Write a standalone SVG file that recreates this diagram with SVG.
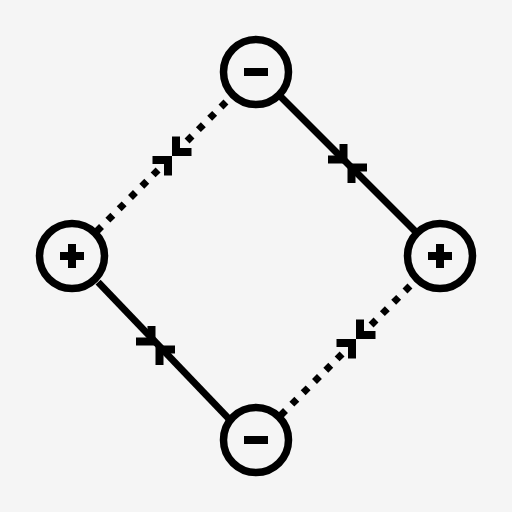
<svg xmlns="http://www.w3.org/2000/svg" xmlns:xlink="http://www.w3.org/1999/xlink" width="512" height="512" viewBox="0 0 512 512">
  <style>
    .ring { fill: #f5f5f5; stroke: #000; stroke-width: 7.5; }
    .sign { fill: #000; }
    .solid { stroke: #000; stroke-width: 7; fill: none; }
    .dots { stroke: #000; stroke-width: 7; fill: none; stroke-dasharray: 7 9; }
    .chev { fill: #000; }
  </style>
  <defs>
    <path id="chev" d="M0 0 H-19.5 V-8 H-8 V-19.5 H0 Z"/>
    <rect id="minus" x="-12" y="-4" width="24" height="8"/>
    <path id="plus" d="M-4 -12 H4 V-4 H12 V4 H4 V12 H-4 V4 H-12 V-4 H-4 Z"/>
  </defs>
  <rect width="512" height="512" fill="#f5f5f5"/>

  <g id="connectors">
    <!-- top to right (solid) -->
    <line class="solid" x1="279.3" y1="95.3" x2="416.7" y2="232.7"/>
    <g class="chev" transform="translate(347.5 163.5)">
      <use xlink:href="#chev"/>
      <use xlink:href="#chev" transform="rotate(180)"/>
    </g>
    <!-- left to bottom (solid) -->
    <line class="solid" x1="98.1" y1="282.1" x2="229.9" y2="419.9"/>
    <g class="chev" transform="translate(155.5 345.5)">
      <use xlink:href="#chev"/>
      <use xlink:href="#chev" transform="rotate(180)"/>
    </g>
    <!-- top to left (dotted) -->
    <line class="dots" x1="225.95" y1="102.05" x2="187.06" y2="140.94"/>
    <line class="dots" x1="158.07" y1="169.93" x2="96.55" y2="231.45"/>
    <g class="chev" transform="translate(172 156)">
      <use xlink:href="#chev" transform="rotate(90)"/>
      <use xlink:href="#chev" transform="rotate(270)"/>
    </g>
    <!-- right to bottom (dotted) -->
    <line class="dots" x1="409.95" y1="286.05" x2="371.06" y2="324.94"/>
    <line class="dots" x1="342.07" y1="353.93" x2="280.55" y2="415.45"/>
    <g class="chev" transform="translate(356 339)">
      <use xlink:href="#chev" transform="rotate(90)"/>
      <use xlink:href="#chev" transform="rotate(270)"/>
    </g>
  </g>

  <g id="node-top" transform="translate(256 72)">
    <circle class="ring" r="32.5"/>
    <use class="sign" xlink:href="#minus"/>
  </g>
  <g id="node-left" transform="translate(72 256)">
    <circle class="ring" r="32.5"/>
    <use class="sign" xlink:href="#plus"/>
  </g>
  <g id="node-right" transform="translate(440 256)">
    <circle class="ring" r="32.5"/>
    <use class="sign" xlink:href="#plus"/>
  </g>
  <g id="node-bottom" transform="translate(256 440)">
    <circle class="ring" r="32.5"/>
    <use class="sign" xlink:href="#minus"/>
  </g>
</svg>
